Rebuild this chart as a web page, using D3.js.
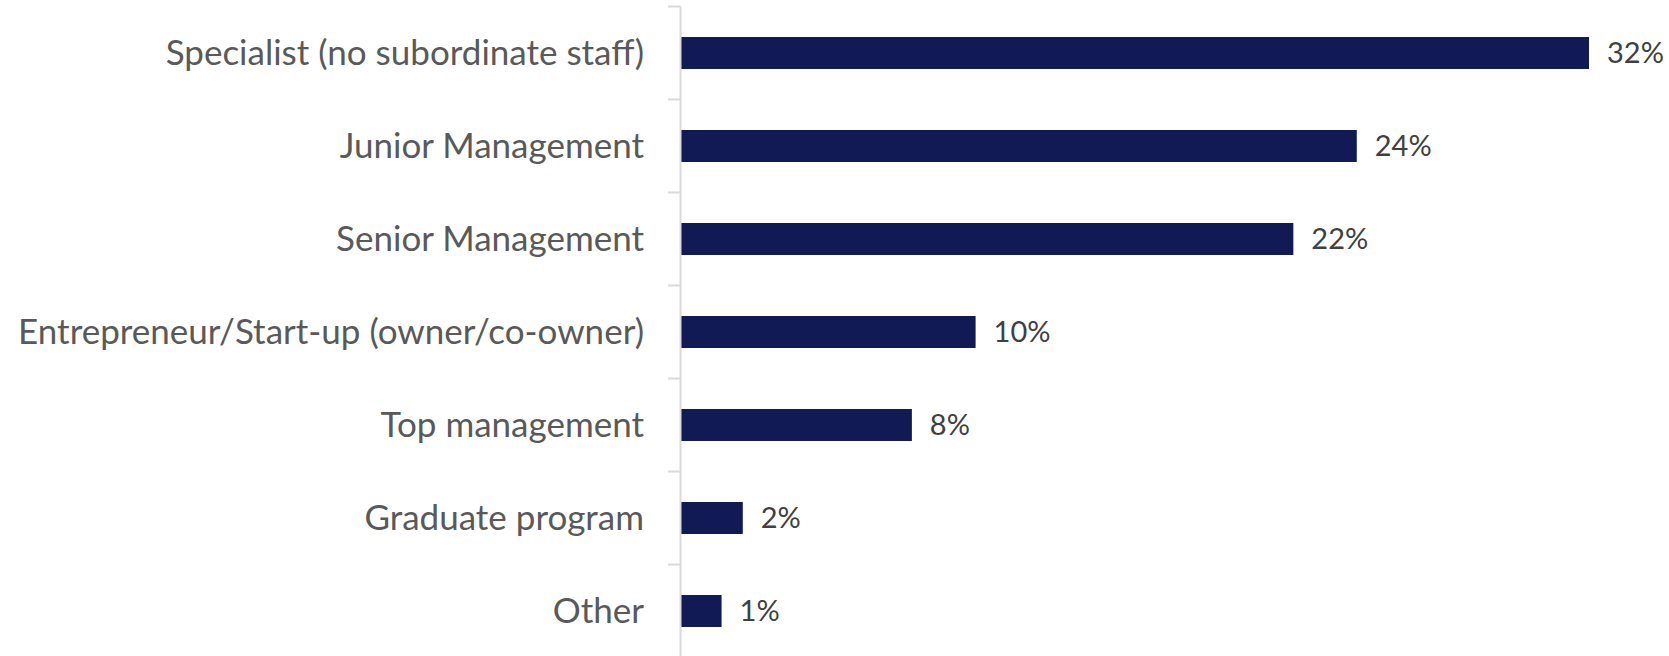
<!DOCTYPE html>
<html>
<head>
<meta charset="utf-8">
<script src="https://cdn.jsdelivr.net/npm/d3@7"></script>
<style>
  html, body { margin: 0; padding: 0; background: #ffffff; }
  svg { display: block; }
</style>
</head>
<body>
<div id="chart"></div>
<script>
const categories = [
  "Specialist (no subordinate staff)",
  "Junior Management",
  "Senior Management",
  "Entrepreneur/Start-up (owner/co-owner)",
  "Top management",
  "Graduate program",
  "Other"
];
const values = [32.08, 23.88, 21.64, 10.42, 8.17, 2.2, 1.45];
const valueLabels = ["32%", "24%", "22%", "10%", "8%", "2%", "1%"];

const W = 1669, H = 656;
const axisX = 680.5;
const svg = d3.select("#chart").append("svg")
  .attr("width", W).attr("height", H);

const y = d3.scaleBand()
  .domain(categories)
  .range([6.5, 6.5 + 93 * categories.length])
  .paddingInner(0.656)
  .paddingOuter(0.328);

const x = d3.scaleLinear()
  .domain([0, 32.08])
  .range([axisX, 1589]);

// bars
svg.append("g").selectAll("rect")
  .data(categories)
  .join("rect")
  .attr("x", x(0))
  .attr("y", d => y(d))
  .attr("width", (d, i) => x(values[i]) - x(0))
  .attr("height", y.bandwidth())
  .attr("fill", "#111a54");

// axis line with ticks between categories
const axisG = svg.append("g");
axisG.append("line")
  .attr("x1", axisX).attr("x2", axisX)
  .attr("y1", 6.5).attr("y2", H + 10)
  .attr("stroke", "#d9d9d9").attr("stroke-width", 2);
const tickYs = d3.range(categories.length + 1).map(i => 6.5 + i * y.step());
axisG.selectAll("line.tick")
  .data(tickYs)
  .join("line")
  .attr("class", "tick")
  .attr("x1", 668).attr("x2", axisX)
  .attr("y1", d => d).attr("y2", d => d)
  .attr("stroke", "#d9d9d9").attr("stroke-width", 2);

// category labels
svg.append("g").selectAll("text")
  .data(categories)
  .join("text")
  .attr("x", 644)
  .attr("y", d => y(d) + y.bandwidth() / 2)
  .attr("dy", "0.35em")
  .attr("text-anchor", "end")
  .attr("font-family", "Lato, 'Open Sans', sans-serif")
  .attr("font-size", 35)
  .attr("fill", "#595959")
  .text(d => d);

// value labels
svg.append("g").selectAll("text")
  .data(categories)
  .join("text")
  .attr("x", (d, i) => x(values[i]) + 18)
  .attr("y", d => y(d) + y.bandwidth() / 2)
  .attr("dy", "0.35em")
  .attr("font-family", "Lato, 'Open Sans', sans-serif")
  .attr("font-size", 29)
  .attr("fill", "#404040")
  .text((d, i) => valueLabels[i]);
</script>
</body>
</html>
